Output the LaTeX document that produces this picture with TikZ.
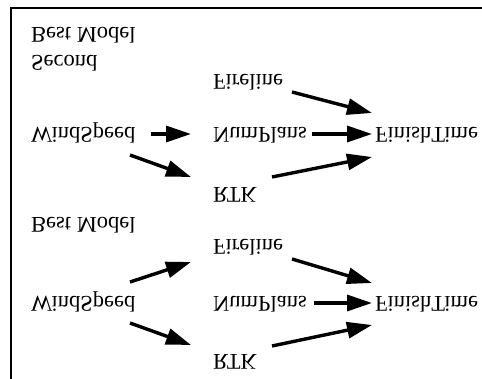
\documentclass[tikz,border=0pt]{standalone}
\usepackage{fontspec}
\setmainfont{Liberation Serif}
\usetikzlibrary{arrows.meta,calc}
\newcommand{\flipt}[1]{\scalebox{1}[-1]{#1}}
\begin{document}
\begin{tikzpicture}[x=1pt,y=-1pt,
  lbl/.style={inner sep=0pt, anchor=base west, font=\fontsize{22.5}{26}\selectfont},
  arr/.style={line width=3.4pt, -{Triangle[length=25pt,width=16pt]}},
  frame/.style={line width=2pt}]
\useasboundingbox (0,0) rectangle (482,379);
\draw[frame] (482,8.5) -- (11,8.5) -- (11,379);
% titles
\node[lbl] (t1) at (31,28) {\flipt{Best Model}};
\node[lbl] (t2) at (31,56) {\flipt{Second}};
\node[lbl] (t3) at (31,218) {\flipt{Best Model}};
% upper graph
\node[lbl] (fl1) at (213,75) {\flipt{Fireline}};
\node[lbl] (ws1) at (31,128) {\flipt{WindSpeed}};
\node[lbl] (np1) at (213,128) {\flipt{NumPlans}};
\node[lbl] (ft1) at (375,128) {\flipt{FinishTime}};
\node[lbl] (rtk1) at (213,188) {\flipt{RTK}};
% lower graph
\node[lbl] (fl2) at (213,240) {\flipt{Fireline}};
\node[lbl] (ws2) at (31,297) {\flipt{WindSpeed}};
\node[lbl] (np2) at (213,297) {\flipt{NumPlans}};
\node[lbl] (ft2) at (375,297) {\flipt{FinishTime}};
\node[lbl] (rtk2) at (213,355) {\flipt{RTK}};
% upper arrows
\draw[arr] ($(ws1.base west)+(120,6)$) -- ($(np1.base west)+(-22,6)$);
\draw[arr] ($(np1.base west)+(99,6)$) -- ($(ft1.base west)+(-3,6)$);
\draw[arr] ($(fl1.base west)+(79,17)$) -- ($(ft1.base west)+(-3,-15)$);
\draw[arr] ($(ws1.base west)+(99,27)$) -- ($(rtk1.base west)+(-22,-11)$);
\draw[arr] ($(rtk1.base west)+(59,-11)$) -- ($(ft1.base west)+(-3,29)$);
% lower arrows
\draw[arr] ($(ws2.base west)+(99,-15)$) -- ($(fl2.base west)+(-22,22)$);
\draw[arr] ($(ws2.base west)+(99,26)$) -- ($(rtk2.base west)+(-22,-10)$);
\draw[arr] ($(fl2.base west)+(79,19)$) -- ($(ft2.base west)+(-3,-14)$);
\draw[arr] ($(np2.base west)+(101,6)$) -- ($(ft2.base west)+(-3,6)$);
\draw[arr] ($(rtk2.base west)+(59,-9)$) -- ($(ft2.base west)+(-3,28)$);
\end{tikzpicture}
\end{document}
